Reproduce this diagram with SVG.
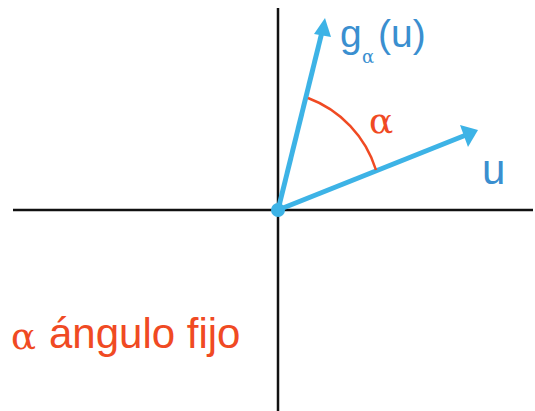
<svg xmlns="http://www.w3.org/2000/svg" width="535" height="411" viewBox="0 0 535 411">
<defs>
<style>
.axis{stroke:#111;stroke-width:2.5;fill:none}
.vec{stroke:#3db3e6;stroke-width:5;fill:none}
.head{fill:#3db3e6}
.arc{stroke:#f04a23;stroke-width:2.5;fill:none}
.blue{fill:#3a8fd0;font-family:"Liberation Sans",Arial,sans-serif}
.red{fill:#f04a23;font-family:"Liberation Sans",Arial,sans-serif}
.greek{font-family:"DejaVu Serif","Liberation Serif",serif}
</style>
</defs>
<g id="axes">
<line class="axis" x1="278" y1="8" x2="278" y2="411"/>
<line class="axis" x1="13" y1="210" x2="533" y2="210"/>
</g>
<g id="connectors">
<line class="vec" x1="278" y1="210" x2="466" y2="135"/>
<polygon class="head" points="478,130 460,125 468,147"/>
<line class="vec" x1="278" y1="210" x2="322" y2="32"/>
<polygon class="head" points="325,18 314,34 331,37"/>
<path class="arc" d="M308,98 A112,112 0 0 1 376,170"/>
</g>
<g id="origin"><circle cx="278" cy="210" r="7" fill="#3db3e6"/></g>
<g id="label-g">
<text class="blue" x="340" y="47" font-size="39">g</text>
<text class="blue greek" x="362" y="63" font-size="18">α</text>
<text class="blue" x="378" y="47" font-size="39">(u)</text>
</g>
<g id="label-alpha"><text class="red greek" x="369" y="133" font-size="36">α</text></g>
<g id="label-u"><text class="blue" x="482" y="184" font-size="42">u</text></g>
<g id="caption">
<text class="red greek" x="11" y="349" font-size="37">α</text>
<text class="red" x="49" y="348" font-size="42">ángulo fijo</text>
</g>
</svg>
